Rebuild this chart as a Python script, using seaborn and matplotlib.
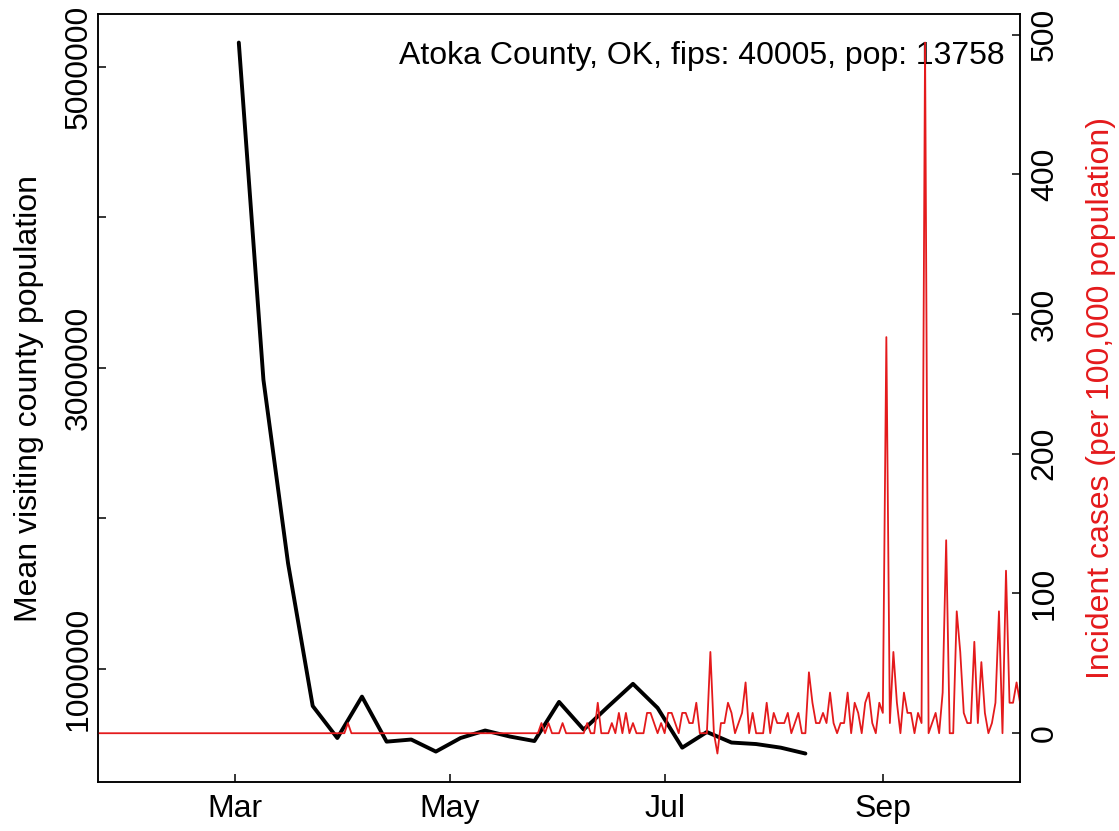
import numpy as np
import pandas as pd
import matplotlib
matplotlib.use("Agg")
import matplotlib.pyplot as plt
import seaborn as sns

# ===== Data =====
county_label = "Atoka County, OK, fips: 40005, pop: 13758"
county_pop = 13758

# weekly mean visiting county population (weeks starting Mon 2 Mar 2020)
visit_start = "2020-03-02"
visit_pop = [5160000, 2920000, 1700000, 753000, 540000, 815000, 516000,
             530000, 450000, 540000, 590000, 550000, 520000, 780000,
             596000, 750000, 900000, 740000, 476000, 580000, 510000,
             500000, 476000, 437000]

# daily new cases, 22 Jan 2020 .. 10 Oct 2020
cases_start = "2020-01-22"
daily_cases = [
    0, 0, 0, 0, 0, 0, 0, 0, 0, 0,
    0, 0, 0, 0, 0, 0, 0, 0, 0, 0,
    0, 0, 0, 0, 0, 0, 0, 0, 0, 0,
    0, 0, 0, 0, 0, 0, 0, 0, 0, 0,
    0, 0, 0, 0, 0, 0, 0, 0, 0, 0,
    0, 0, 0, 0, 0, 0, 0, 0, 0, 0,
    0, 0, 0, 0, 0, 0, 0, 0, 0, 0,
    0, 1, 0, 0, 0, 0, 0, 0, 0, 0,
    0, 0, 0, 0, 0, 0, 0, 0, 0, 0,
    0, 0, 0, 0, 0, 0, 0, 0, 0, 0,
    0, 0, 0, 0, 0, 0, 0, 0, 0, 0,
    0, 0, 0, 0, 0, 0, 0, 0, 0, 0,
    0, 0, 0, 0, 0, 0, 1, 0, 1, 0,
    0, 0, 1, 0, 0, 0, 0, 0, 0, 1,
    0, 0, 3, 0, 0, 0, 1, 0, 2, 0,
    2, 0, 1, 0, 0, 0, 2, 2, 1, 0,
    1, 0, 2, 2, 1, 0, 2, 2, 1, 1,
    3, 0, 0, 0, 8, 0, -2, 1, 1, 3,
    2, 0, 1, 2, 5, 0, 2, 0, 0, 0,
    3, 0, 2, 1, 1, 1, 2, 0, 1, 2,
    0, 0, 6, 3, 1, 1, 2, 1, 4, 1,
    0, 1, 1, 4, 0, 3, 2, 0, 3, 4,
    1, 0, 3, 2, 39, 1, 8, 3, 0, 4,
    2, 2, 0, 2, 1, 68, 0, 1, 2, 0,
    4, 19, 0, 0, 12, 8, 2, 1, 1, 9,
    1, 7, 2, 0, 1, 3, 12, 0, 16, 3,
    3, 5, 3,
]

month_ticks = ["2020-03-01", "2020-05-01", "2020-07-01", "2020-09-01"]
month_labels = ["Mar", "May", "Jul", "Sep"]
pop_ticks = [1000000, 2000000, 3000000, 4000000, 5000000]
pop_labels = ["1000000", "", "3000000", "", "5000000"]
case_ticks = [0, 100, 200, 300, 400, 500]

red = "#E41A1C"
fs = 23

# ===== Frames =====
visits = pd.DataFrame({
    "week": pd.date_range(visit_start, periods=len(visit_pop), freq="7D"),
    "pop": visit_pop,
})
cases = pd.DataFrame({
    "date": pd.date_range(cases_start, periods=len(daily_cases), freq="D"),
    "incid": np.array(daily_cases) * 100000 / county_pop,
})


def padded(v, frac=0.04):
    lo, hi = min(v), max(v)
    r = hi - lo
    return lo - frac * r, hi + frac * r


# ===== Plot =====
sns.set_style("ticks")
plt.rcParams["font.family"] = ["Liberation Sans", "DejaVu Sans"]
plt.rcParams.update({
    "axes.linewidth": 1.1,
    "axes.edgecolor": "black",
    "axes.labelcolor": "black",
    "text.color": "black",
    "xtick.color": "black",
    "ytick.color": "black",
})

fig = plt.figure(figsize=(11.19, 8.31), dpi=100)
ax = fig.add_axes([0.0876, 0.059, 0.824, 0.924])

sns.lineplot(data=visits, x="week", y="pop", ax=ax, color="black", linewidth=2.8)
ax.set_xlim(cases["date"].min(), cases["date"].max())
ax.set_ylim(*padded(visit_pop))
ax.set_xticks(pd.to_datetime(month_ticks))
ax.set_xticklabels(month_labels)
ax.set_yticks(pop_ticks)
ax.set_yticklabels(pop_labels)
ax.set_xlabel("")
ax.set_ylabel("Mean visiting county population", fontsize=fs, va="center")
ax.yaxis.set_label_coords(-0.0748, 0.5)
ax.tick_params(axis="both", direction="in", length=6, width=1.1, labelsize=fs)
ax.tick_params(axis="x", pad=9)
ax.tick_params(axis="y", pad=3, labelrotation=90)
for lab in ax.get_yticklabels():
    lab.set_va("center")

ax.text(0.9837, 0.945, county_label, transform=ax.transAxes,
        ha="right", va="center", fontsize=fs)

ax2 = ax.twinx()
sns.lineplot(data=cases, x="date", y="incid", ax=ax2, color=red, linewidth=1.3)
ax2.set_xlim(cases["date"].min(), cases["date"].max())
ax2.set_ylim(*padded(cases["incid"]))
ax2.set_yticks(case_ticks)
ax2.set_yticklabels([str(t) for t in case_ticks])
ax2.set_ylabel("Incident cases (per 100,000 population)", fontsize=fs,
               color=red, va="center")
ax2.yaxis.set_label_coords(1.088, 0.5)
ax2.tick_params(axis="y", direction="in", length=6, width=1.1, labelsize=fs,
                pad=7, labelrotation=90)
for lab in ax2.get_yticklabels():
    lab.set_va("center")

fig.savefig("out.png", dpi=100)
